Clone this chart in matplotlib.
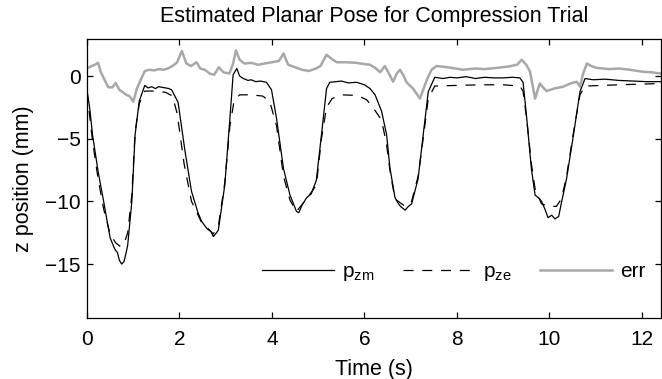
import numpy as np
import matplotlib
matplotlib.use('Agg')
import matplotlib.pyplot as plt

#------------------------------------------------------------------
# Dados
#------------------------------------------------------------------
t_zm = [0.00, 0.06, 0.12, 0.24, 0.36, 0.50, 0.60, 0.66, 0.70, 0.75, 0.80, 0.84,
        0.88, 0.97, 1.04, 1.13, 1.25, 1.32, 1.40, 1.48, 1.55, 1.62, 1.70, 1.77,
        1.83, 1.97, 2.12, 2.26, 2.40, 2.48, 2.60, 2.68, 2.73, 2.78, 2.84, 2.98,
        3.09, 3.16, 3.24, 3.30, 3.38, 3.48, 3.55, 3.65, 3.75, 3.88, 3.99, 4.10,
        4.25, 4.39, 4.53, 4.58, 4.65, 4.75, 4.85, 4.96, 5.07, 5.18, 5.25, 5.38,
        5.50, 5.65, 5.83, 6.00, 6.12, 6.23, 6.37, 6.48, 6.55, 6.66, 6.72, 6.78,
        6.88, 6.95, 7.02, 7.16, 7.27, 7.38, 7.52, 7.70, 7.85, 8.00, 8.20, 8.40,
        8.60, 8.80, 9.00, 9.20, 9.36, 9.43, 9.51, 9.61, 9.69, 9.76, 9.83, 9.90,
        9.97, 10.05, 10.12, 10.20, 10.26, 10.37, 10.52, 10.66, 10.77, 10.95,
        11.20, 11.50, 11.80, 12.10, 12.40]
p_zm = [-1.1, -2.6, -4.7, -7.6, -10.0, -12.9, -13.8, -14.1, -14.7, -15.0, -14.8, -14.2,
        -13.5, -10.0, -4.7, -2.0, -0.75, -0.95, -0.85, -1.0, -0.85, -0.9, -0.95, -1.0,
        -1.1, -2.1, -6.0, -9.2, -10.9, -11.6, -12.2, -12.4, -12.8, -12.6, -12.3, -8.7,
        -3.4, 0.1, 0.6, 0.0, -0.2, -0.35, -0.3, -0.45, -0.4, -0.5, -1.1, -3.4,
        -7.4, -9.5, -10.8, -10.9, -10.3, -9.7, -9.4, -8.3, -4.7, -1.0, -0.5, -0.45,
        -0.4, -0.55, -0.5, -0.7, -1.0, -1.5, -2.8, -4.7, -7.3, -9.7, -10.1, -10.4,
        -10.7, -10.4, -10.2, -8.2, -4.7, -1.25, -0.1, -0.2, -0.1, -0.15, -0.05, -0.2,
        -0.1, -0.15, -0.15, -0.1, -0.15, -0.5, -3.4, -7.4, -9.5, -9.7, -10.0, -10.6,
        -11.3, -11.1, -11.4, -11.2, -10.1, -8.2, -4.7, -1.25, -0.2, -0.3,
        -0.25, -0.35, -0.4, -0.45, -0.45]

t_ze = [0.00, 0.12, 0.24, 0.36, 0.50, 0.62, 0.72, 0.80, 0.88, 0.97, 1.04, 1.13,
        1.25, 1.45, 1.70, 1.85, 1.95, 2.10, 2.26, 2.48, 2.60, 2.73, 2.84, 2.98,
        3.09, 3.18, 3.30, 3.55, 3.80, 3.95, 4.10, 4.25, 4.39, 4.53, 4.75, 4.96,
        5.07, 5.18, 5.30, 5.50, 5.85, 6.05, 6.20, 6.37, 6.48, 6.55, 6.66, 6.88,
        7.02, 7.16, 7.27, 7.38, 7.52, 8.00, 8.50, 9.00, 9.36, 9.43, 9.51, 9.61,
        9.69, 9.83, 10.00, 10.15, 10.26, 10.37, 10.52, 10.66, 10.77, 11.50, 12.40]
p_ze = [-1.3, -5.2, -8.2, -10.6, -12.6, -13.3, -13.6, -13.4, -12.5, -9.5, -4.5, -2.2,
        -1.2, -1.2, -1.3, -1.6, -3.0, -7.0, -10.0, -11.7, -12.1, -12.6, -12.0, -8.5,
        -4.0, -2.0, -1.5, -1.5, -1.6, -2.0, -4.0, -8.0, -9.9, -10.8, -9.8, -8.7,
        -5.0, -2.5, -1.8, -1.5, -1.55, -1.9, -2.6, -3.5, -5.5, -7.5, -9.8, -10.4,
        -10.0, -8.0, -5.0, -1.8, -0.8, -0.75, -0.7, -0.7, -0.8, -1.2, -3.5, -7.0,
        -9.0, -10.2, -10.4, -10.4, -9.8, -8.0, -4.5, -1.5, -0.8, -0.7, -0.6]

t_err = [0.00, 0.10, 0.17, 0.24, 0.30, 0.38, 0.46, 0.55, 0.62, 0.70, 0.78, 0.85,
         0.92, 1.00, 1.08, 1.15, 1.25, 1.35, 1.45, 1.55, 1.65, 1.75, 1.85, 1.95,
         2.05, 2.15, 2.25, 2.37, 2.45, 2.55, 2.65, 2.75, 2.85, 2.95, 3.08, 3.16,
         3.22, 3.30, 3.40, 3.55, 3.70, 3.85, 4.00, 4.15, 4.25, 4.35, 4.50, 4.65,
         4.80, 4.95, 5.05, 5.18, 5.28, 5.40, 5.60, 5.83, 6.00, 6.12, 6.25, 6.34,
         6.44, 6.53, 6.62, 6.70, 6.77, 6.85, 6.91, 7.05, 7.20, 7.28, 7.35, 7.45,
         7.56, 7.80, 8.13, 8.40, 8.60, 8.86, 9.10, 9.30, 9.40, 9.50, 9.58, 9.69,
         9.79, 9.86, 9.94, 10.10, 10.30, 10.45, 10.59, 10.66, 10.73, 10.81, 10.90,
         11.02, 11.30, 11.50, 11.74, 12.00, 12.20, 12.40]
err = [0.6, 0.8, 0.9, 1.05, 0.3, -0.3, -0.9, -0.9, -0.55, -1.1, -1.3, -1.5,
       -1.6, -2.05, -1.0, -0.4, 0.4, 0.5, 0.45, 0.55, 0.5, 0.6, 0.8, 1.1,
       2.0, 1.0, 0.8, 1.1, 0.6, 0.5, 0.2, 0.1, 0.7, 0.3, 0.2, 1.0,
       2.05, 1.3, 1.0, 1.05, 0.9, 1.0, 1.1, 1.2, 1.8, 0.9, 0.7, 0.5,
       0.4, 0.6, 0.8, 1.7, 1.4, 1.1, 1.1, 1.05, 0.95, 0.9, 0.6, 0.3,
       0.8, 0.2, -0.45, 0.2, 0.5, 0.0, -0.5, -1.0, -1.8, -1.0, -0.3, 0.5,
       0.8, 0.7, 0.5, 0.6, 0.55, 0.65, 0.75, 0.9, 1.3, 0.9, 0.35, -1.8,
       -0.6, -0.9, -1.2, -1.0, -0.85, -0.6, -0.45, -0.85, 0.2, 1.0, 0.8,
       0.65, 0.55, 0.6, 0.5, 0.35, 0.3, 0.2]

xticks = [0, 2, 4, 6, 8, 10, 12]
yticks = [-15, -10, -5, 0]

#------------------------------------------------------------------
# Gráfico
#------------------------------------------------------------------
plt.rcParams['font.family'] = ['Liberation Sans', 'DejaVu Sans']
plt.rcParams['mathtext.fontset'] = 'custom'
plt.rcParams['mathtext.rm'] = 'Liberation Sans'

fig = plt.figure(figsize=(6.62, 3.79), dpi=100)
ax = fig.add_axes([0.1314, 0.161, 0.8676, 0.736])

ax.plot(t_zm, p_zm, color='black', lw=0.9, label=r'p$_\mathregular{zm}$')
ax.plot(t_ze, p_ze, color='black', lw=0.9, dashes=(8, 7), label=r'p$_\mathregular{ze}$')
ax.plot(t_err, err, color='#a8a8a8', lw=1.8, label='err')

ax.set_xlim(0, 12.42)
ax.set_ylim(-19.3, 2.95)
ax.set_xticks(xticks)
ax.set_yticks(yticks)
ax.set_yticklabels(['\u221215', '\u221210', '\u22125', '0'])
ax.tick_params(direction='in', top=True, right=True, length=4, width=0.9,
               labelsize=15)
ax.tick_params(axis='x', pad=9)
ax.tick_params(axis='y', pad=4.5)
for s in ax.spines.values():
    s.set_linewidth(0.9)

ax.set_title('Estimated Planar Pose for Compression Trial', fontsize=15.5, pad=12)
ax.set_xlabel('Time (s)', fontsize=15.5, labelpad=7)
ax.set_ylabel('z position (mm)', fontsize=15.5, labelpad=8)

ax.legend(ncol=3, loc='center left', bbox_to_anchor=(0.305, 0.163), frameon=False,
          fontsize=15, handlelength=3.45, columnspacing=1.35, handletextpad=0.4,
          borderpad=0.0, borderaxespad=0.0)

fig.savefig('out.png', dpi=100)
